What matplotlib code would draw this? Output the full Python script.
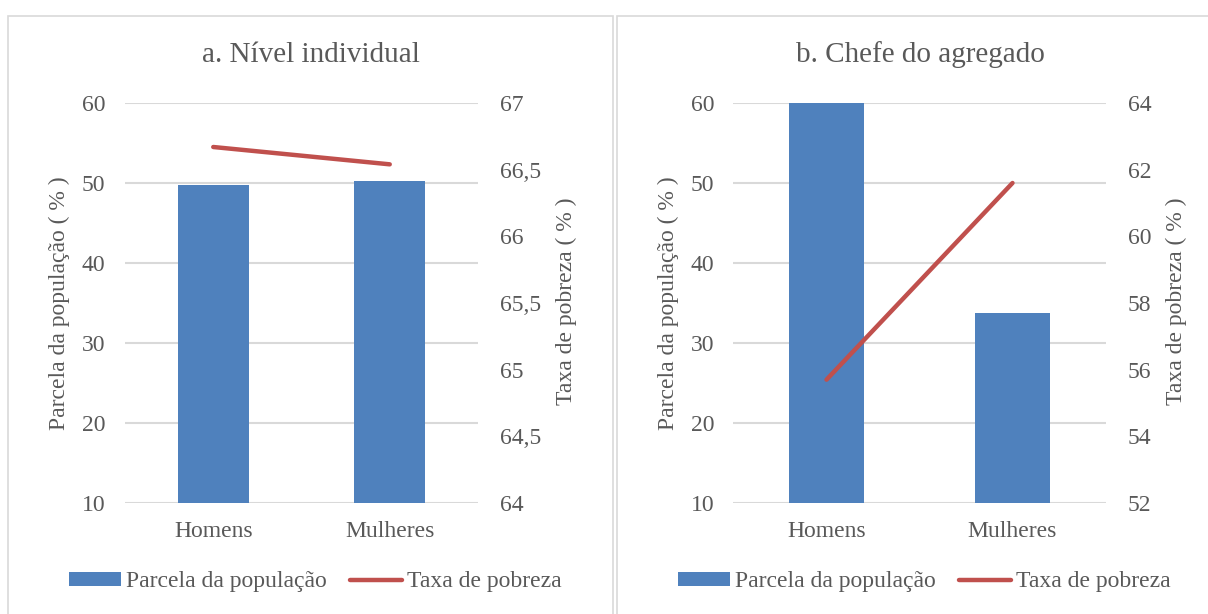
import numpy as np
from matplotlib import pyplot as plt
from matplotlib.patches import Rectangle
from matplotlib.ticker import FuncFormatter

plt.rcParams["font.family"] = ["Liberation Serif", "DejaVu Serif"]

categories = ["Homens", "Mulheres"]

# a. Nível individual
share_a = [49.7, 50.3]
poverty_a = [66.67, 66.54]
# b. Chefe do agregado
share_b = [66.2, 33.8]
poverty_b = [55.7, 61.6]

titles = ["a. Nível individual", "b. Chefe do agregado"]
right_ticks = [np.arange(64, 67.01, 0.5), np.arange(52, 64.01, 2)]
left_ticks = np.arange(10, 61, 10)

text_col = "#595959"
grid_col = "#d9d9d9"
bar_col = "#4f81bd"
line_col = "#c0504d"

W, H = 1208, 614
fig = plt.figure(figsize=(W / 100, H / 100), dpi=100)


def fx(px):
    return px / W


def fy(py):
    return 1 - py / H


# panel borders
for x0, x1 in [(8, 613), (616.5, 1230)]:
    fig.patches.append(Rectangle((fx(x0), fy(640)), fx(x1 - x0), (640 - 15.5) / H,
                                 transform=fig.transFigure, fill=False,
                                 edgecolor=grid_col, lw=1.2))

panels = [
    dict(left=125, right=478, share=share_a, pov=poverty_a, title_x=311, leg_x=315,
         ylab_l=59, ylab_r=566),
    dict(left=733.5, right=1105.5, share=share_b, pov=poverty_b, title_x=920, leg_x=924,
         ylab_l=668, ylab_r=1176),
]

comma = FuncFormatter(lambda v, p: ("%g" % v).replace(".", ","))
fs = 17

for i, p in enumerate(panels):
    ax = fig.add_axes([fx(p["left"]), fy(503), fx(p["right"] - p["left"]), 400 / H])
    x = np.arange(len(categories))
    bars = ax.bar(x, p["share"], width=0.4, color=bar_col, zorder=2,
                  label="Parcela da população")
    ax.set_xlim(-0.5, 1.5)
    ax.set_ylim(10, 60)
    ax.set_yticks(left_ticks)
    ax.set_xticks(x)
    ax.set_xticklabels(categories)
    ax.grid(axis="y", color=grid_col, lw=1.5, zorder=0)
    ax.set_axisbelow(True)
    for s in ax.spines.values():
        s.set_visible(False)
    ax.tick_params(axis="y", length=0, pad=14, labelsize=fs, labelcolor=text_col)
    ax.tick_params(axis="x", length=0, pad=13, labelsize=fs, labelcolor=text_col)

    ax2 = ax.twinx()
    line, = ax2.plot(x, p["pov"], color=line_col, lw=3.2, solid_capstyle="round",
                     label="Taxa de pobreza")
    rt = right_ticks[i]
    ax2.set_ylim(rt[0], rt[-1])
    ax2.set_yticks(rt)
    ax2.yaxis.set_major_formatter(comma)
    for s in ax2.spines.values():
        s.set_visible(False)
    ax2.tick_params(axis="y", length=0, pad=16, labelsize=fs, labelcolor=text_col)

    fig.text(fx(p["ylab_l"]), fy(303), "Parcela da população ( % )", rotation=90,
             ha="center", va="center", fontsize=fs, color=text_col)
    fig.text(fx(p["ylab_r"]), fy(301), "Taxa de pobreza ( % )", rotation=90,
             ha="center", va="center", fontsize=fs, color=text_col)
    fig.text(fx(p["title_x"]), fy(55), titles[i], ha="center", va="center",
             fontsize=21, color=text_col)

    leg = ax2.legend([bars, line], ["Parcela da população", "Taxa de pobreza"],
                     loc="center", bbox_to_anchor=(fx(p["leg_x"]), fy(582)),
                     bbox_transform=fig.transFigure, ncol=2, frameon=False,
                     fontsize=fs, handlelength=2.2, handleheight=0.5,
                     handletextpad=0.2, columnspacing=1.0, borderpad=0)
    for t in leg.get_texts():
        t.set_color(text_col)

fig.savefig("out.png", dpi=100)
